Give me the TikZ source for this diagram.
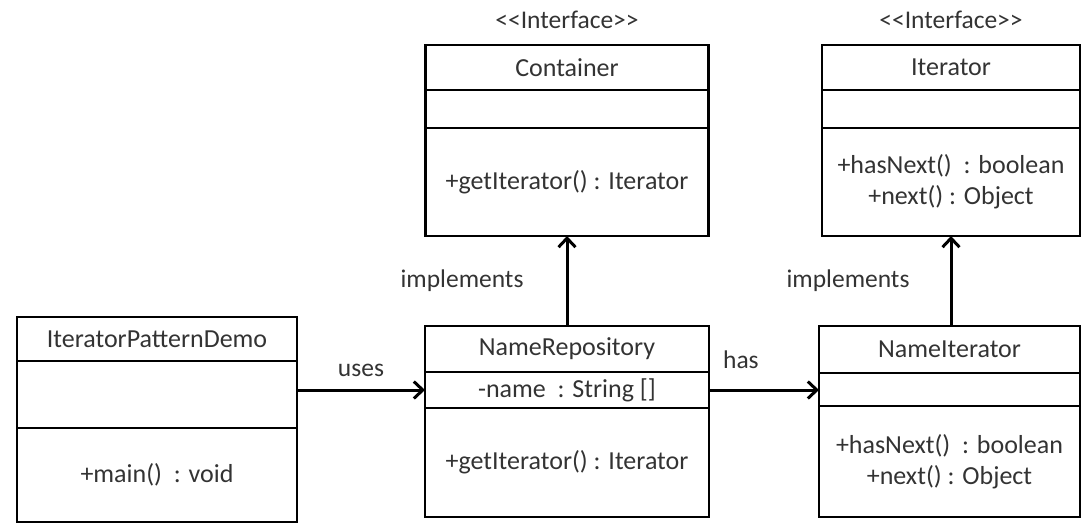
\documentclass[tikz,border=0pt]{standalone}
\usepackage{fontspec}
\setmainfont{Carlito}
\usetikzlibrary{positioning,arrows.meta}

\definecolor{textgray}{HTML}{333333}

\tikzset{
    classbox/.style={draw,line width=2.8pt,outer sep=0pt,inner sep=0pt,
        minimum width=#1,text=textgray,align=center,
        font=\fontsize{26pt}{31pt}\selectfont},
    tag/.style={text=textgray,inner sep=0pt,font=\fontsize{25.5pt}{31pt}\selectfont},
    rel/.style={-{Straight Barb[length=9pt,width=17pt]},line width=3pt},
}

\begin{document}
\begin{tikzpicture}[x=1pt,y=-1pt]
    \useasboundingbox (0,0) rectangle (1083,523);
    % interfaces
    \node [classbox=283pt,minimum height=45pt,anchor=north] (contname) at (567,45) {Container};
    \node [classbox=283pt,minimum height=38pt,below=0pt of contname] (contattr) {};
    \node [classbox=283pt,minimum height=108pt,below=0pt of contattr] (contops) {+getIterator() : Iterator};
    \node [tag,above=16pt of contname] (contstereo) {<{}<Interface>{}>};

    \node [classbox=258pt,minimum height=45pt,anchor=north] (itername) at (951,45) {Iterator};
    \node [classbox=258pt,minimum height=38pt,below=0pt of itername] (iterattr) {};
    \node [classbox=258pt,minimum height=108pt,below=0pt of iterattr] (iterops) {+hasNext()~~: boolean\\+next() : Object};
    \node [tag,above=16pt of itername] (iterstereo) {<{}<Interface>{}>};

    % classes
    \node [classbox=280pt,minimum height=44pt,anchor=north] (democname) at (157,317) {IteratorPatternDemo};
    \node [classbox=280pt,minimum height=67pt,below=0pt of democname] (demoattr) {};
    \node [classbox=280pt,minimum height=94pt,below=0pt of demoattr] (demoops) {+main()~~: void};

    \node [classbox=284pt,minimum height=46pt,anchor=north] (reponame) at (567,326) {NameRepository};
    \node [classbox=284pt,minimum height=36pt,below=0pt of reponame] (repoattr) {-name~~: String []};
    \node [classbox=284pt,minimum height=109pt,below=0pt of repoattr] (repoops) {+getIterator() : Iterator};

    \node [classbox=261pt,minimum height=47pt,anchor=north] (niname) at (949.5,326) {NameIterator};
    \node [classbox=261pt,minimum height=33pt,below=0pt of niname] (niattr) {};
    \node [classbox=261pt,minimum height=111pt,below=0pt of niattr] (niops) {+hasNext()~~: boolean\\+next() : Object};

    % relations
    \draw [rel] (demoattr.east |- repoattr) -- node [tag,above=12pt] (uses) {uses} (repoattr.west);
    \draw [rel] (repoattr.east) -- node [tag,pos=0.29,above=20pt] (has) {has} (niattr.west |- repoattr);
    \draw [rel] (reponame.north) -- node [tag,left=42pt] (impl1) {implements} (contops.south);
    \draw [rel] (niname.north -| itername) -- node [tag,left=40pt] (impl2) {implements} (iterops.south);
\end{tikzpicture}
\end{document}
